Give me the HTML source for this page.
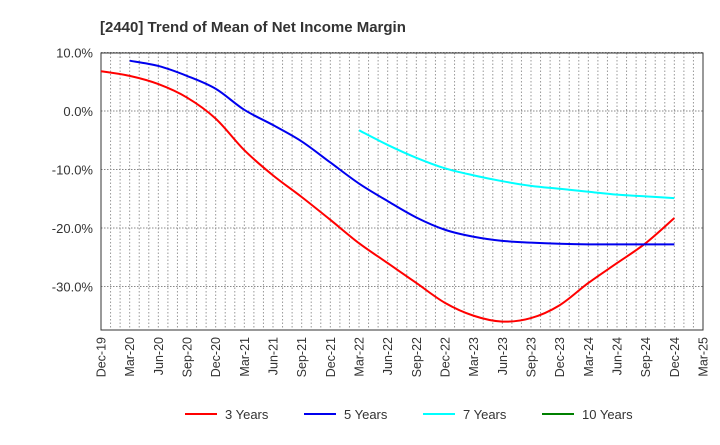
<!DOCTYPE html>
<html><head><meta charset="utf-8"><style>
body{margin:0;background:#fff;font-family:"Liberation Sans",sans-serif}
</style></head><body>
<svg id="chart" width="720" height="440" xmlns="http://www.w3.org/2000/svg" font-family="Liberation Sans, sans-serif">
<text x="100" y="32" font-size="15" font-weight="bold" fill="#333">[2440]  Trend of Mean of Net Income Margin</text>
<g id="grid"></g>
<g id="axes"></g>
<g id="series"></g>
<g id="legend"></g>
</svg>
<script>
const xLabels=["Dec-19","Mar-20","Jun-20","Sep-20","Dec-20","Mar-21","Jun-21","Sep-21","Dec-21","Mar-22","Jun-22","Sep-22","Dec-22","Mar-23","Jun-23","Sep-23","Dec-23","Mar-24","Jun-24","Sep-24","Dec-24","Mar-25"];
const yTicks=[10,0,-10,-20,-30];
const s3=[6.8,6.0,4.6,2.3,-1.3,-6.7,-11,-14.7,-18.6,-22.6,-26,-29.4,-32.8,-35,-36,-35.4,-33.2,-29.4,-26,-22.6,-18.3];
const s5=[null,8.6,7.7,6.0,3.8,0.2,-2.4,-5.2,-8.8,-12.4,-15.4,-18.2,-20.3,-21.5,-22.2,-22.5,-22.7,-22.8,-22.8,-22.8,-22.8];
const s7=[null,null,null,null,null,null,null,null,null,-3.3,-5.8,-8,-9.8,-11,-12,-12.8,-13.3,-13.8,-14.3,-14.6,-14.9];
const s10=[];
const L=101,R=703,T=53,B=330;
const NS='http://www.w3.org/2000/svg';
function X(i){return L+(R-L)*i*3/63;}
function Y(v){return 111-v*5.85;}
function mk(t,a,p){const e=document.createElementNS(NS,t);for(const k in a)e.setAttribute(k,a[k]);p.appendChild(e);return e;}
const grid=document.getElementById('grid'),axes=document.getElementById('axes'),ser=document.getElementById('series'),leg=document.getElementById('legend');
for(let m=1;m<63;m++){const x=L+(R-L)*m/63;const g=mk('line',{x1:x,x2:x,y1:T,y2:B,stroke:'#999','stroke-dasharray':'1.5,2','stroke-width':1},grid);
}
yTicks.forEach(v=>{const y=Y(v);const g=mk('line',{x1:L,x2:R,y1:y,y2:y,stroke:'#888','stroke-dasharray':'1.5,1.5'},grid);

const t=mk('text',{x:L-8,y:y+5,'text-anchor':'end','font-size':13,fill:'#333'},axes);t.textContent=v.toFixed(1)+'%';
});
const fr=mk('rect',{x:L,y:T,width:R-L,height:B-T,fill:'none',stroke:'#333'},axes);

xLabels.forEach((l,i)=>{const x=X(i);const t=mk('text',{x:0,y:0,transform:`translate(${x+4.5},${B+7}) rotate(-90)`,'text-anchor':'end','font-size':12.5,fill:'#333'},axes);t.textContent=l;
});
function path(d){const p=[];d.forEach((v,i)=>{if(v!=null)p.push([X(i),Y(v)]);});if(!p.length)return'';
let s=`M${p[0][0]},${p[0][1]}`;for(let i=0;i<p.length-1;i++){const p0=p[i-1]||p[i],p1=p[i],p2=p[i+1],p3=p[i+2]||p2;
s+=` C${p1[0]+(p2[0]-p0[0])/6},${p1[1]+(p2[1]-p0[1])/6} ${p2[0]-(p3[0]-p1[0])/6},${p2[1]-(p3[1]-p1[1])/6} ${p2[0]},${p2[1]}`;}return s;}
const series=[[s3,'#ff0000','3 Years','series-3-years'],[s5,'#0000ee','5 Years','series-5-years'],[s7,'#00ffff','7 Years','series-7-years'],[s10,'#008000','10 Years','series-10-years']];
series.forEach(([d,c,n,nm],k)=>{const pd=path(d);if(pd){const p=mk('path',{d:pd,fill:'none',stroke:c,'stroke-width':2},ser);
}
const lx=[185,304,423,542][k];const g=mk('g',{},leg);
mk('line',{x1:lx,x2:lx+32,y1:414,y2:414,stroke:c,'stroke-width':2},g);
const t=mk('text',{x:lx+40,y:419,'font-size':13,fill:'#333'},g);t.textContent=n;});
</script>
</body></html>
